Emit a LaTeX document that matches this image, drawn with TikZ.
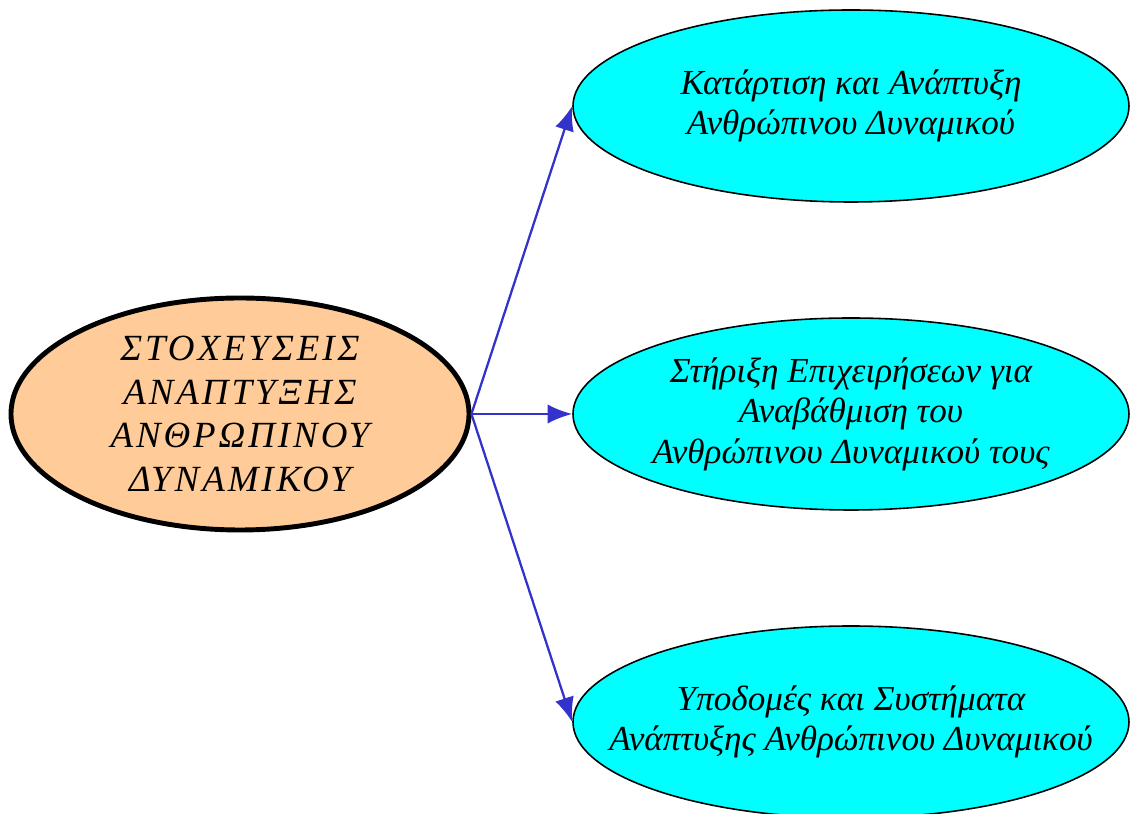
\documentclass[tikz,border=0pt]{standalone}
\usepackage{fontspec}
\setmainfont{Liberation Serif}
\usetikzlibrary{shapes.geometric,arrows.meta}
\definecolor{peach}{HTML}{FFCC99}
\definecolor{aqua}{HTML}{00FFFF}
\definecolor{linkblue}{HTML}{3333CC}
\begin{document}
\begin{tikzpicture}[
    goalbox/.style={ellipse,draw,line width=2.8pt,fill=peach,inner sep=0pt,
        minimum width=9.16cm,minimum height=4.64cm,align=center,
        font=\fontsize{21}{25}\selectfont\itshape\addfontfeature{LetterSpace=8}},
    aimbox/.style={ellipse,draw,line width=0.9pt,fill=aqua,inner xsep=-1.3cm,inner ysep=0pt,
        minimum width=11.12cm,minimum height=3.84cm,align=center,
        font=\fontsize{20}{23}\selectfont\itshape},
    link/.style={draw=linkblue,line width=1.3pt,-{Latex[length=14pt,width=11pt]}}]
    \useasboundingbox (0,0) rectangle (22.62,16.28);
    \node[goalbox] (goal) at (4.80,8.00) {ΣΤΟΧΕΥΣΕΙΣ\\ΑΝΑΠΤΥΞΗΣ\\ΑΝΘΡΩΠΙΝΟΥ\\ΔΥΝΑΜΙΚΟΥ};
    \node[aimbox] (train) at (17.02,14.16) {Κατάρτιση και Ανάπτυξη\\Ανθρώπινου Δυναμικού};
    \node[aimbox] (support) at (17.02,8.00) {Στήριξη Επιχειρήσεων για\\Αναβάθμιση του\\Ανθρώπινου Δυναμικού τους};
    \node[aimbox] (infra) at (17.02,1.84) {Υποδομές και Συστήματα\\Ανάπτυξης Ανθρώπινου Δυναμικού};

    \draw[link] (goal.east) -- (train.west);
    \draw[link] (goal.east) -- (support.west);
    \draw[link] (goal.east) -- (infra.west);
\end{tikzpicture}
\end{document}
